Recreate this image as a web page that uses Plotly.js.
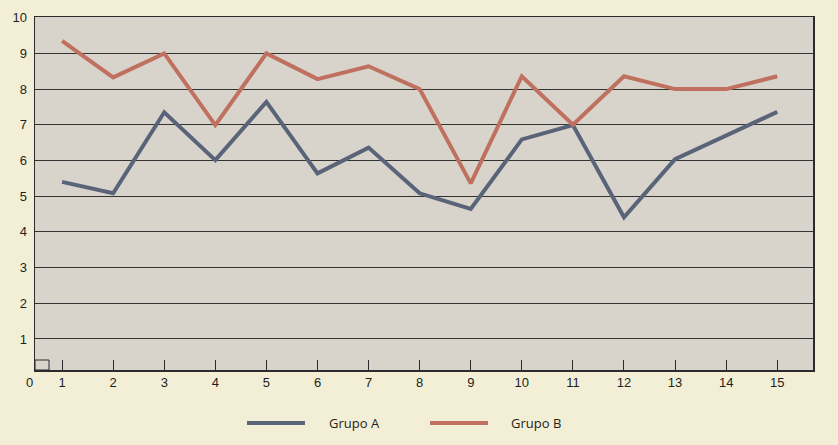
<!DOCTYPE html>
<html>
<head>
<meta charset="utf-8">
<script src="https://cdn.plot.ly/plotly-3.0.1.min.js"></script>
<style>
html,body{margin:0;padding:0;background:#f2efd6;}
#chart{width:838px;height:445px;}
</style>
</head>
<body>
<div id="chart"></div>
<script>
const categories = [1,2,3,4,5,6,7,8,9,10,11,12,13,14,15];
const seriesNames = ["Grupo A", "Grupo B"];
const grupoA = [5.40, 5.08, 7.35, 6.01, 7.64, 5.64, 6.36, 5.08, 4.64, 6.59, 6.99, 4.41, 6.04, 6.70, 7.36];
const grupoB = [9.35, 8.33, 9.00, 6.99, 9.00, 8.28, 8.64, 8.00, 5.36, 8.36, 7.00, 8.36, 8.00, 8.00, 8.36];
const yTicks = [1,2,3,4,5,6,7,8,9,10];

const colA = "#596479";
const colB = "#c0705f";
const dark = "#2b2b2b";

const traces = [
  {x: categories, y: grupoA, name: seriesNames[0], type: "scatter", mode: "lines",
   line: {color: colA, width: 4}, showlegend: false},
  {x: categories, y: grupoB, name: seriesNames[1], type: "scatter", mode: "lines",
   line: {color: colB, width: 4}, showlegend: false}
];

const layout = {
  width: 838, height: 445,
  margin: {l: 35, r: 25, t: 17, b: 75},
  paper_bgcolor: "#f2efd6",
  plot_bgcolor: "#d8d4cc",
  font: {family: "Liberation Sans, Arial, sans-serif", size: 13, color: "#231f20"},
  xaxis: {
    range: [0.47, 15.7],
    tickvals: categories, ticktext: categories.map(String),
    ticks: "inside", ticklen: 10, tickwidth: 1, tickcolor: dark,
    showgrid: false, zeroline: false,
    showline: true, mirror: true, linecolor: dark, linewidth: 1.5,
    tickfont: {size: 13}
  },
  yaxis: {
    range: [0.13, 10.02],
    tickvals: yTicks, ticktext: yTicks.map(String),
    ticks: "", showgrid: true, gridcolor: "#333333", gridwidth: 1,
    zeroline: false,
    showline: true, mirror: true, linecolor: dark, linewidth: 1.5,
    ticklabelstandoff: 4,
    tickfont: {size: 13}
  },
  shapes: [
    {type: "rect", xref: "paper", yref: "paper", x0: 0, x1: 0.018, y0: 0, y1: 0.0283,
     line: {color: dark, width: 1}},
    {type: "line", xref: "paper", yref: "paper", x0: 0.2725, x1: 0.347, y0: -0.150, y1: -0.150,
     line: {color: colA, width: 4}},
    {type: "line", xref: "paper", yref: "paper", x0: 0.5077, x1: 0.5823, y0: -0.150, y1: -0.150,
     line: {color: colB, width: 4}}
  ],
  annotations: [
    {text: "0", xref: "paper", yref: "paper", x: -0.0077, y: -0.0368, showarrow: false,
     xanchor: "center", yanchor: "middle", font: {size: 13}},
    {text: seriesNames[0], xref: "paper", yref: "paper", x: 0.375, y: -0.150, showarrow: false,
     xanchor: "left", yanchor: "middle", font: {family: "Open Sans, sans-serif", size: 13}},
    {text: seriesNames[1], xref: "paper", yref: "paper", x: 0.609, y: -0.150, showarrow: false,
     xanchor: "left", yanchor: "middle", font: {family: "Open Sans, sans-serif", size: 13}}
  ]
};

Plotly.newPlot("chart", traces, layout, {displayModeBar: false, staticPlot: true});
</script>
</body>
</html>
